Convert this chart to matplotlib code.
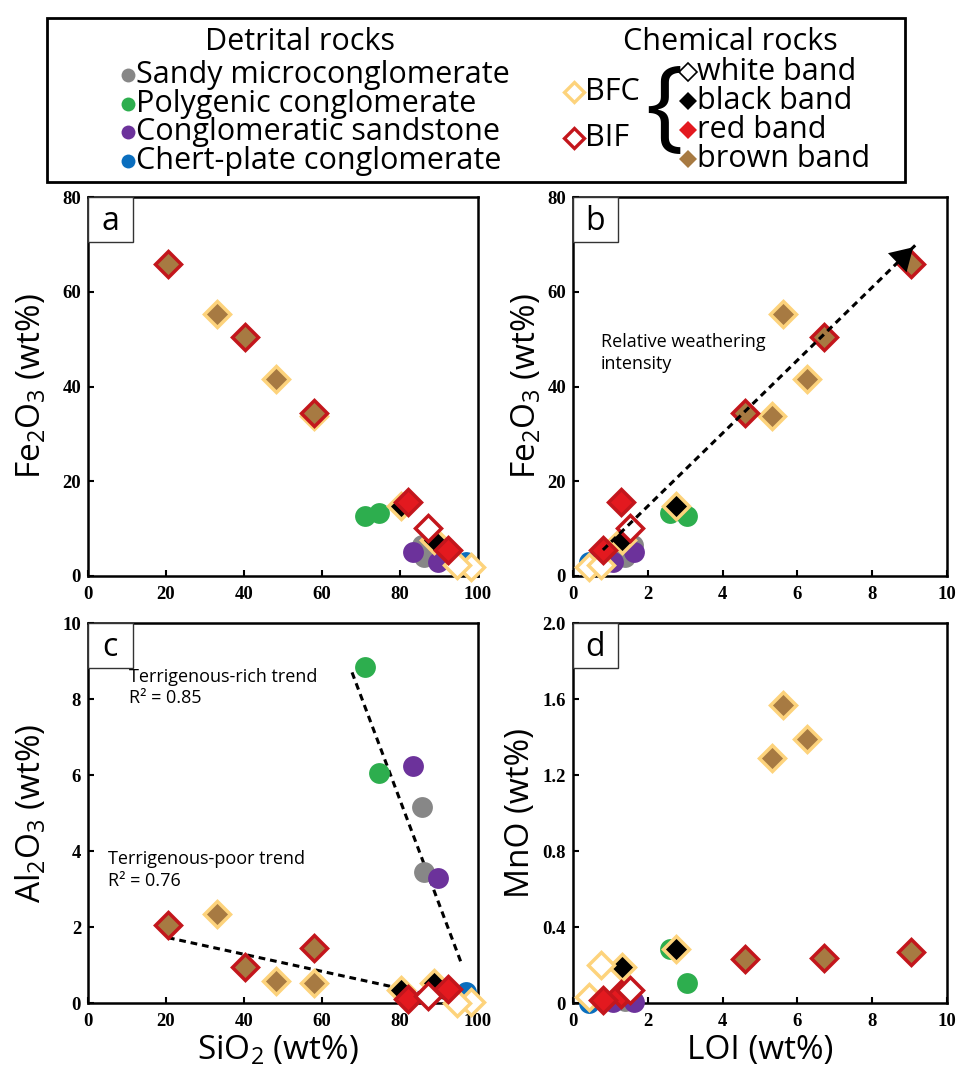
import numpy as np
import matplotlib.pyplot as plt
from matplotlib.lines import Line2D
from matplotlib.patches import Rectangle

plt.rcParams['font.family'] = ['Open Sans', 'DejaVu Sans']
plt.rcParams['mathtext.fontset'] = 'custom'
plt.rcParams['mathtext.rm'] = 'Open Sans'

# ---- detrital rocks (circles) ----
gray_sio2 = [85.7, 86.1]
gray_fe = [6.5, 4.0]
gray_loi = [1.6, 1.4]
gray_al = [5.15, 3.45]
gray_mno = [0.015, 0.012]

green_sio2 = [71.0, 74.7]
green_fe = [12.6, 13.2]
green_loi = [3.05, 2.6]
green_al = [8.85, 6.05]
green_mno = [0.107, 0.283]

purple_sio2 = [83.4, 89.7]
purple_fe = [5.0, 3.0]
purple_loi = [1.62, 1.08]
purple_al = [6.25, 3.3]
purple_mno = [0.003, 0.003]

blue_sio2 = [96.8]
blue_fe = [2.9]
blue_loi = [0.42]
blue_al = [0.3]
blue_mno = [0.0]

# ---- chemical rocks (diamonds) ----
chem_band = ['brown', 'brown', 'brown', 'brown', 'brown', 'brown',
             'black', 'black', 'red', 'red', 'white', 'white', 'white']
chem_type = ['BIF', 'BFC', 'BIF', 'BFC', 'BIF', 'BFC',
             'BFC', 'BFC', 'BIF', 'BIF', 'BIF', 'BFC', 'BFC']
chem_sio2 = [20.5, 33.0, 40.2, 48.3, 58.0, 58.0, 80.3, 88.8, 82.1, 92.4, 87.2, 98.3, 94.5]
chem_fe = [65.9, 55.4, 50.4, 41.5, 34.5, 33.8, 14.8, 7.6, 15.7, 5.4, 10.1, 1.9, 2.4]
chem_loi = [9.04, 5.61, 6.72, 6.25, 4.59, 5.33, 2.75, 1.30, 1.28, 0.80, 1.52, 0.42, 0.74]
chem_al = [2.05, 2.33, 0.96, 0.58, 1.46, 0.53, 0.34, 0.52, 0.1, 0.38, 0.18, 0.03, 0.0]
chem_mno = [0.27, 1.567, 0.239, 1.39, 0.232, 1.29, 0.283, 0.19, 0.045, 0.016, 0.069, 0.03, 0.2]

# trend lines / arrow
rich_trend_sio2 = [67.7, 95.9]
rich_trend_al = [8.7, 1.0]
poor_trend_sio2 = [20.5, 93.5]
poor_trend_al = [1.72, 0.08]
arrow_loi = [0.8, 9.15]
arrow_fe = [5.5, 69.8]

sio2_ticks = [0, 20, 40, 60, 80, 100]
fe_ticks = [0, 20, 40, 60, 80]
loi_ticks = [0, 2, 4, 6, 8, 10]
al_ticks = [0, 2, 4, 6, 8, 10]
mno_ticks = [0, 0.4, 0.8, 1.2, 1.6, 2.0]
mno_ticklabels = ['0', '0.4', '0.8', '1.2', '1.6', '2.0']

c_gray = '#878787'
c_green = '#2DAE4E'
c_purple = '#6C329B'
c_blue = '#0A6EBE'
band_col = {'white': 'white', 'black': 'black', 'red': '#E3191F', 'brown': '#A77A42'}
type_col = {'BFC': '#FDD37C', 'BIF': '#C3161C'}

W, H = 960, 1073
fig = plt.figure(figsize=(9.6, 10.73), dpi=100)


def box(l, t, r, b):
    return [l / W, 1 - b / H, (r - l) / W, (b - t) / H]


def style(ax, xt, yt, ytl=None):
    ax.set_xticks(xt)
    ax.set_yticks(yt)
    if ytl is not None:
        ax.set_yticklabels(ytl)
    for s in ax.spines.values():
        s.set_linewidth(1.8)
    ax.tick_params(direction='in', length=4, width=1.5, pad=7)
    ax.tick_params(axis='y', pad=5)
    for lab in ax.get_xticklabels() + ax.get_yticklabels():
        lab.set_family('Liberation Serif')
        lab.set_weight('bold')
        lab.set_size(13.5)


def letter(ax, s, pw, ph):
    ax.add_patch(Rectangle((0, 1 - 45 / ph), 45 / pw, 45 / ph, transform=ax.transAxes,
                           fc='white', ec='#333333', lw=1, zorder=10, clip_on=False))
    ax.text(22 / pw, 1 - 24 / ph, s, transform=ax.transAxes, ha='center', va='center',
            fontsize=23, zorder=11)


def draw(ax, xkey, ykey):
    det = {'sio2': [gray_sio2, green_sio2, purple_sio2, blue_sio2],
           'loi': [gray_loi, green_loi, purple_loi, blue_loi]}[xkey]
    dety = {'fe': [gray_fe, green_fe, purple_fe, blue_fe],
            'al': [gray_al, green_al, purple_al, blue_al],
            'mno': [gray_mno, green_mno, purple_mno, blue_mno]}[ykey]
    for xs, ys, c in zip(det, dety, [c_gray, c_green, c_purple, c_blue]):
        ax.plot(xs, ys, 'o', ms=15, mew=0, color=c, zorder=3, clip_on=False)
    cx = {'sio2': chem_sio2, 'loi': chem_loi}[xkey]
    cy = {'fe': chem_fe, 'al': chem_al, 'mno': chem_mno}[ykey]
    for t in ['BFC', 'BIF']:
        for i in range(len(cx)):
            if chem_type[i] != t:
                continue
            ax.plot(cx[i], cy[i], 'D', ms=13.5, mew=2.5, mfc=band_col[chem_band[i]],
                    mec=type_col[t], zorder=4, clip_on=False)


ax_a = fig.add_axes(box(88, 197, 478, 576))
ax_b = fig.add_axes(box(573, 197, 947, 576))
ax_c = fig.add_axes(box(88, 623, 478, 1003))
ax_d = fig.add_axes(box(573, 623, 947, 1003))

draw(ax_a, 'sio2', 'fe')
ax_a.set_xlim(0, 100)
ax_a.set_ylim(0, 80)
style(ax_a, sio2_ticks, fe_ticks)
letter(ax_a, 'a', 390, 379)

draw(ax_b, 'loi', 'fe')
ax_b.plot(arrow_loi, arrow_fe, color='black', lw=2.2, ls=(0, (2.2, 1.6)), zorder=5)
ax_b.annotate('', xy=(arrow_loi[1], arrow_fe[1]),
              xytext=(arrow_loi[1] - 0.3, arrow_fe[1] - 2.3),
              arrowprops=dict(arrowstyle='-|>,head_length=0.5,head_width=0.3',
                              mutation_scale=32, color='black', lw=0),
              zorder=6)
ax_b.text(0.75, 47.0, 'Relative weathering\nintensity', fontsize=13, va='center',
          linespacing=1.3)
ax_b.set_xlim(0, 10)
ax_b.set_ylim(0, 80)
style(ax_b, loi_ticks, fe_ticks)
letter(ax_b, 'b', 374, 379)

draw(ax_c, 'sio2', 'al')
ax_c.plot(rich_trend_sio2, rich_trend_al, color='black', lw=2.2, ls=(0, (2.2, 1.6)), zorder=2)
ax_c.plot(poor_trend_sio2, poor_trend_al, color='black', lw=2.2, ls=(0, (2.2, 1.6)), zorder=2)
ax_c.text(10.5, 8.3, 'Terrigenous-rich trend\nR\u00b2 = 0.85', fontsize=13, va='center',
          linespacing=1.25)
ax_c.text(5.0, 3.5, 'Terrigenous-poor trend\nR\u00b2 = 0.76', fontsize=13, va='center',
          linespacing=1.25)
ax_c.set_xlim(0, 100)
ax_c.set_ylim(0, 10)
style(ax_c, sio2_ticks, al_ticks)
letter(ax_c, 'c', 390, 380)

draw(ax_d, 'loi', 'mno')
ax_d.set_xlim(0, 10)
ax_d.set_ylim(0, 2.0)
style(ax_d, loi_ticks, mno_ticks, mno_ticklabels)
letter(ax_d, 'd', 374, 380)

# axis titles
fe_lab = r'Fe$_\mathregular{2}$O$_\mathregular{3}$ (wt%)'
fig.text(31 / W, 1 - 386 / H, fe_lab, rotation=90, ha='center', va='center', fontsize=24)
fig.text(526 / W, 1 - 386 / H, fe_lab, rotation=90, ha='center', va='center', fontsize=24)
fig.text(31 / W, 1 - 813 / H, r'Al$_\mathregular{2}$O$_\mathregular{3}$ (wt%)', rotation=90,
         ha='center', va='center', fontsize=24)
fig.text(520 / W, 1 - 813 / H, 'MnO (wt%)', rotation=90, ha='center', va='center', fontsize=24)
fig.text(278 / W, 1 - 1050 / H, r'SiO$_\mathregular{2}$ (wt%)', ha='center', va='center', fontsize=24)
fig.text(760 / W, 1 - 1050 / H, 'LOI (wt%)', ha='center', va='center', fontsize=24)

# legend
fig.add_artist(Rectangle((47 / W, 1 - 182 / H), 858 / W, 164 / H, transform=fig.transFigure,
                         fill=False, ec='black', lw=2))
fig.text(300 / W, 1 - 42 / H, 'Detrital rocks', ha='center', va='center', fontsize=22)
fig.text(730 / W, 1 - 42 / H, 'Chemical rocks', ha='center', va='center', fontsize=22)
det_names = ['Sandy microconglomerate', 'Polygenic conglomerate',
             'Conglomeratic sandstone', 'Chert-plate conglomerate']
for k, (nm, c) in enumerate(zip(det_names, [c_gray, c_green, c_purple, c_blue])):
    yy = 1 - (75 + 28.7 * k) / H
    fig.add_artist(Line2D([128 / W], [yy], marker='o', ms=10, mew=0, color=c,
                          transform=fig.transFigure))
    fig.text(136 / W, yy, nm, ha='left', va='center', fontsize=22)
for t, ypx in zip(['BFC', 'BIF'], [92, 138]):
    yy = 1 - ypx / H
    fig.add_artist(Line2D([574 / W], [yy], marker='D', ms=10, mew=2.4, mfc='white',
                          mec=type_col[t], transform=fig.transFigure))
    fig.text(585 / W, yy, t, ha='left', va='center', fontsize=22)
fig.text(664 / W, 1 - 112 / H, '{', ha='center', va='center', fontsize=72)
for k, b in enumerate(['white', 'black', 'red', 'brown']):
    yy = 1 - (72 + 29 * k) / H
    fig.add_artist(Line2D([688 / W], [yy], marker='D', ms=9.5, mew=1.2 if b == 'white' else 0,
                          mfc=band_col[b], mec='black', transform=fig.transFigure))
    fig.text(697 / W, yy, b + ' band', ha='left', va='center', fontsize=22)

fig.savefig('out.png', dpi=100)
